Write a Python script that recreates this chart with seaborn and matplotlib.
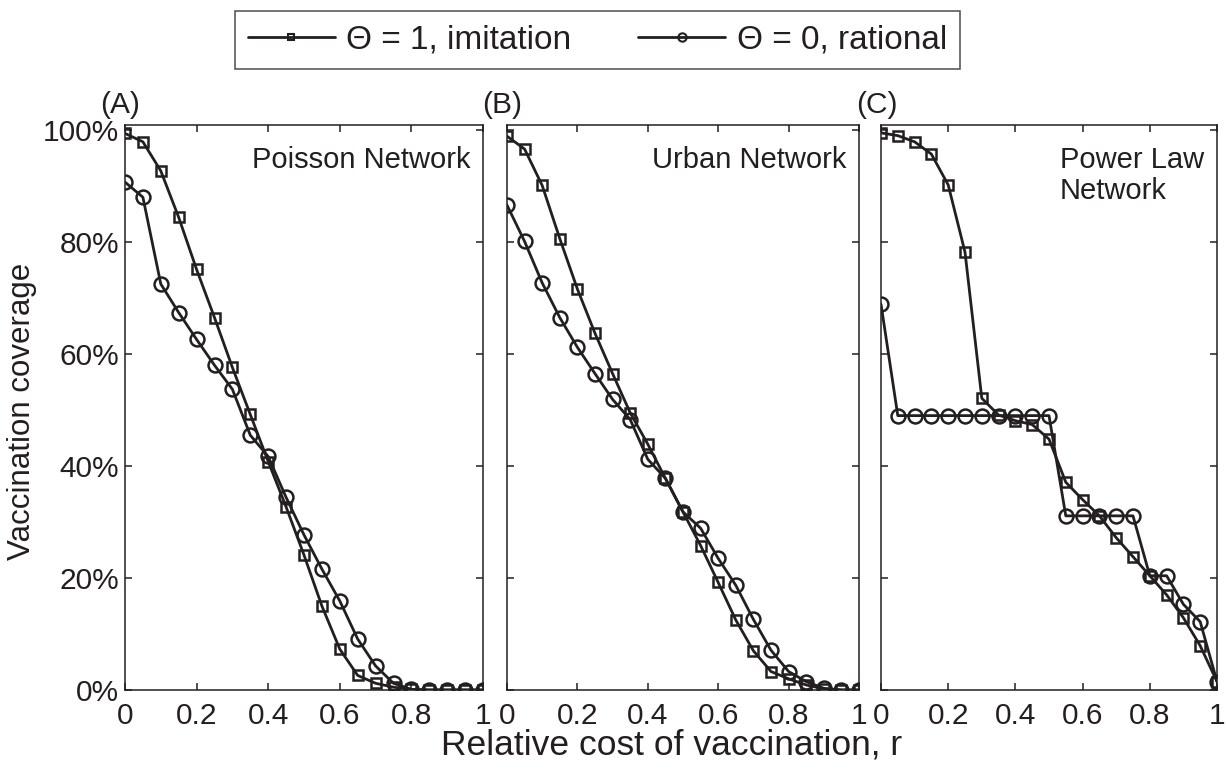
# Vaccination coverage vs relative cost, imitation vs rational, three networks

import numpy as np
import pandas as pd
import matplotlib
matplotlib.use('Agg')
import matplotlib.pyplot as plt
from matplotlib.lines import Line2D
import seaborn as sns

r = [0, 0.05, 0.1, 0.15, 0.2, 0.25, 0.3, 0.35, 0.4, 0.45, 0.5,
     0.55, 0.6, 0.65, 0.7, 0.75, 0.8, 0.85, 0.9, 0.95, 1.0]

poisson_imit = [99.4, 97.9, 92.7, 84.4, 75.1, 66.5, 57.6, 49.2, 40.8, 32.7, 24.1,
                15.0, 7.3, 2.6, 1.2, 0.5, 0.1, 0, 0, 0, 0]
poisson_rat = [90.7, 88.0, 72.5, 67.4, 62.6, 58.0, 53.7, 45.5, 41.7, 34.4, 27.7,
               21.6, 15.9, 9.1, 4.3, 1.2, 0.1, 0, 0, 0, 0]
urban_imit = [98.9, 96.6, 90.1, 80.6, 71.6, 63.7, 56.5, 49.5, 43.9, 37.8, 31.8,
              25.8, 19.2, 12.5, 7.0, 3.3, 2.0, 0.9, 0.2, 0, 0]
urban_rat = [86.6, 80.1, 72.7, 66.5, 61.2, 56.5, 51.9, 48.3, 41.2, 37.8, 31.8,
             28.9, 23.5, 18.7, 12.6, 7.1, 3.3, 1.5, 0.3, 0, 0]
power_imit = [99.5, 99.0, 97.9, 95.7, 90.2, 78.2, 52.1, 49.1, 48.1, 47.4, 44.8,
              37.1, 34.0, 31.1, 27.2, 23.8, 20.4, 17.0, 12.9, 7.9, 1.5]
power_rat = [68.9, 49.0, 49.0, 49.0, 49.0, 49.0, 49.0, 49.0, 49.0, 49.0, 49.0,
             31.1, 31.1, 31.1, 31.1, 31.1, 20.4, 20.4, 15.3, 12.2, 1.5]

panels = ['(A)', '(B)', '(C)']
titles = ['Poisson Network', 'Urban Network', 'Power Law\nNetwork']
series_labels = ['\u0398 = 1, imitation', '\u0398 = 0, rational']
xticks = [0, 0.2, 0.4, 0.6, 0.8, 1]
xtick_labels = ['0', '0.2', '0.4', '0.6', '0.8', '1']
yticks = [0, 20, 40, 60, 80, 100]
ytick_labels = ['0%', '20%', '40%', '60%', '80%', '100%']

data = [(poisson_imit, poisson_rat), (urban_imit, urban_rat), (power_imit, power_rat)]

sns.set_style('white')
plt.rcParams['font.family'] = ['Liberation Sans', 'DejaVu Sans']
ink = '#231f20'

fig = plt.figure(figsize=(12.26, 7.69), dpi=100)
lefts = [125, 507, 881]
rights = [483, 859, 1217]
W, H = 1226., 769.
bottom = 1 - 690 / H
top = 1 - 125 / H

for i in range(3):
    ax = fig.add_axes([lefts[i] / W, bottom, (rights[i] - lefts[i]) / W, top - bottom])
    imit, rat = data[i]
    df = pd.DataFrame({'r': r, 'imit': imit, 'rat': rat})
    sns.lineplot(data=df, x='r', y='imit', ax=ax, color=ink, lw=2.0, marker='s',
                 markersize=7, mfc='none', mec=ink, mew=1.8)
    sns.lineplot(data=df, x='r', y='rat', ax=ax, color=ink, lw=2.0, marker='o',
                 markersize=10, mfc='none', mec=ink, mew=1.8)
    ax.set_xlim(0, 1)
    ax.set_ylim(0, 100.9)
    ax.set_xticks(xticks)
    ax.set_xticklabels(xtick_labels)
    ax.set_yticks(yticks)
    if i == 0:
        ax.set_yticklabels(ytick_labels)
    else:
        ax.set_yticklabels([])
    ax.set_xlabel('')
    ax.set_ylabel('')
    ax.tick_params(direction='in', length=5, width=1.1, color=ink, labelsize=21.5,
                   labelcolor=ink, top=True, right=True, bottom=True, left=True)
    ax.tick_params(axis='x', pad=9)
    ax.tick_params(axis='y', pad=4)
    for s in ax.spines.values():
        s.set_visible(True)
        s.set_color(ink)
        s.set_linewidth(1.1)
    for t in ax.get_xticklabels() + ax.get_yticklabels():
        t.set_clip_on(False)
    if i == 2:
        ax.text(0.533, 0.962, titles[i], transform=ax.transAxes, ha='left', va='top',
                fontsize=21, color=ink, linespacing=1.1)
    else:
        ax.text(0.965, 0.962, titles[i], transform=ax.transAxes, ha='right', va='top',
                fontsize=21, color=ink)
    fig.text((lefts[i] - 25) / W, 1 - 113 / H, panels[i], fontsize=21.5, color=ink,
             ha='left', va='baseline')

fig.text(22 / W, 1 - 411 / H, 'Vaccination coverage', rotation=90, ha='center',
         va='center', fontsize=22.5, color=ink)
fig.text(672 / W, 1 - 745 / H, 'Relative cost of vaccination, r', ha='center',
         va='center', fontsize=25.5, color=ink)

handles = [Line2D([], [], color=ink, lw=2.0, marker='s', markersize=5, mfc='none',
                  mec=ink, mew=1.5),
           Line2D([], [], color=ink, lw=2.0, marker='o', markersize=6, mfc='none',
                  mec=ink, mew=1.5)]
leg = fig.legend(handles, series_labels, loc='center', bbox_to_anchor=(597.5 / W, 1 - 40 / H),
                 ncol=2, fontsize=24, frameon=True, fancybox=False, handlelength=2.6,
                 handletextpad=0.35, columnspacing=2.0, borderpad=0.4)
leg.get_frame().set_edgecolor(ink)
leg.get_frame().set_linewidth(1.1)
for t in leg.get_texts():
    t.set_color(ink)

fig.savefig('out.png', dpi=100)
